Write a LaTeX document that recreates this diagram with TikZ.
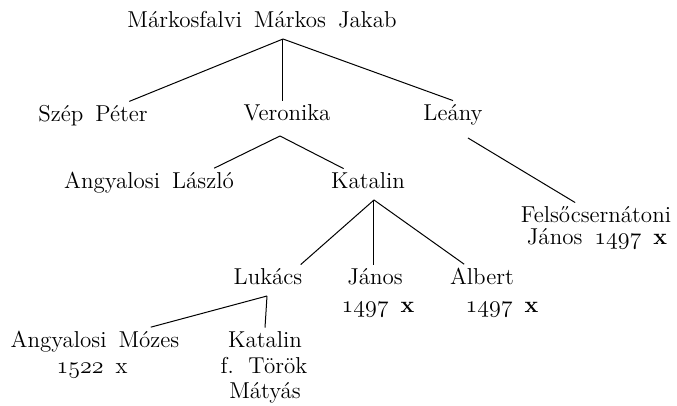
\documentclass[tikz,border=0pt]{standalone}
\usepackage{fontspec}
\usetikzlibrary{calc}
\newcommand\widewords{\spaceskip=6pt plus 1pt\relax}
\newcommand\osyear[1]{\ensuremath{\mathnormal{#1}}}
\tikzset{
    person/.style={
        inner sep=2pt,
        font=\fontsize{11.5}{13}\selectfont\widewords
    },
    branch/.style={
        line width=0.5pt
    }
}

\begin{document}
\begin{tikzpicture}[x=0.5pt,y=-0.5pt]
\useasboundingbox (0,0) rectangle (677,406);
\node[person,anchor=base] (jakab) at (262,28) {Márkosfalvi Márkos Jakab};
\node[person,anchor=base] (szep) at (93,122) {Szép Péter};
\node[person,anchor=base] (veronika) at (287,121) {Veronika};
\node[person,anchor=base] (leany) at (453,121) {Leány};
\node[person,anchor=base] (laszlo) at (149,189) {Angyalosi László};
\node[person,anchor=base] (katalin) at (368,189) {Katalin};
\node[person,anchor=base] (felso) at (596,223) {Felsőcsernátoni};
\node[person,anchor=base] (felsoev) at (597,245) {János \osyear{1497} \textbf{x}};
\node[person,anchor=base] (lukacs) at (268,285) {Lukács};
\node[person,anchor=base] (janos) at (375,285) {János};
\node[person,anchor=base] (janosev) at (378,313) {\osyear{1497} \textbf{x}};
\node[person,anchor=base] (albert) at (482,285) {Albert};
\node[person,anchor=base] (albertev) at (502,313) {\osyear{1497} \textbf{x}};
\node[person,anchor=base] (mozes) at (95,348) {Angyalosi Mózes};
\node[person,anchor=base] (mozesev) at (92,374) {\osyear{1522} x};
\node[person,anchor=base] (katalin2) at (265,348) {Katalin};
\node[person,anchor=base] (torok) at (264,374) {f. Török};
\node[person,anchor=base] (matyas) at (265,399) {Mátyás};
\coordinate (jk) at (283,39);
\coordinate (vk) at (280,136);
\coordinate (ly) at (468,138);
\coordinate (kk) at (374,200);
\coordinate (lk) at (267,296);
\draw[branch] (jk) -- (szep);
\draw[branch] (jk) -- (jk |- veronika.north);
\draw[branch] (jk) -- (leany.north);
\draw[branch] (vk) -- ([xshift=-12pt]laszlo.north east);
\draw[branch] (vk) -- (katalin);
\draw[branch] (ly) -- (felso);
\draw[branch] (kk) -- ([xshift=-3pt]lukacs.north east);
\draw[branch] (kk) -- (kk |- janos.north);
\draw[branch] (kk) -- (albert);
\draw[branch] (lk) -- (mozes);
\draw[branch] (lk) -- (katalin2.north);
\end{tikzpicture}
\end{document}
